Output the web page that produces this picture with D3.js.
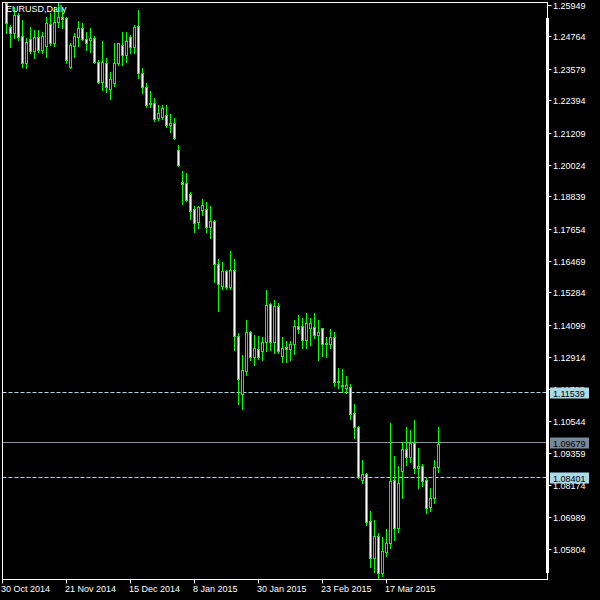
<!DOCTYPE html>
<html><head><meta charset="utf-8">
<script src="https://cdn.jsdelivr.net/npm/d3@7"></script>
<style>
html,body{margin:0;padding:0;background:#000;}
svg{display:block;}
text{font-family:"Liberation Sans",Arial,sans-serif;font-size:9px;}
</style>
</head><body>
<svg id="c" width="600" height="600"></svg>
<script>
const title = "EURUSD,Daily";
const opens = [1.2599,1.2512,1.2491,1.2556,1.2478,1.2379,1.2467,1.2423,1.2475,1.2426,
1.2441,1.2523,1.2452,1.2530,1.2549,1.2545,1.2363,1.2441,1.2475,1.2508,
1.2467,1.2462,1.2471,1.2382,1.2308,1.2378,1.2282,1.2304,1.2378,1.2445,
1.2408,1.2475,1.2438,1.2515,1.2341,1.2289,1.2230,1.2230,1.2175,1.2178,
1.2186,1.2149,1.2157,1.2056,1.1938,1.1934,1.1893,1.1838,1.1790,1.1834,
1.1838,1.1771,1.1793,1.1634,1.1553,1.1608,1.1549,1.1612,1.1367,1.1153,
1.1238,1.1382,1.1290,1.1319,1.1312,1.1345,1.1486,1.1345,1.1479,1.1293,
1.1327,1.1319,1.1338,1.1404,1.1404,1.1353,1.1397,1.1401,1.1371,1.1397,
1.1341,1.1338,1.1364,1.1201,1.1186,1.1175,1.1179,1.1082,1.1030,1.0834,
1.0856,1.0682,1.0545,1.0627,1.0490,1.0567,1.0601,1.0834,1.0656,1.0867,
1.0949,1.0919,1.0971,1.0879,1.0886,1.0834,1.0734,1.0767,1.0882];
const highs = [1.2600,1.2519,1.2586,1.2563,1.2538,1.2471,1.2512,1.2501,1.2501,1.2493,
1.2549,1.2563,1.2586,1.2600,1.2586,1.2549,1.2452,1.2489,1.2534,1.2526,
1.2493,1.2508,1.2478,1.2389,1.2460,1.2397,1.2345,1.2452,1.2452,1.2493,
1.2493,1.2482,1.2519,1.2575,1.2360,1.2304,1.2275,1.2249,1.2223,1.2223,
1.2223,1.2189,1.2175,1.2075,1.1978,1.1971,1.1901,1.1849,1.1849,1.1875,
1.1864,1.1849,1.1797,1.1653,1.1641,1.1612,1.1682,1.1653,1.1379,1.1297,
1.1427,1.1386,1.1371,1.1367,1.1364,1.1538,1.1490,1.1501,1.1490,1.1364,
1.1349,1.1349,1.1427,1.1445,1.1434,1.1453,1.1434,1.1453,1.1427,1.1397,
1.1364,1.1393,1.1382,1.1249,1.1245,1.1219,1.1190,1.1116,1.1034,1.0908,
1.0860,1.0719,1.0686,1.0638,1.0623,1.0653,1.1045,1.0923,1.0886,1.0975,
1.1030,1.1019,1.1056,1.0953,1.0893,1.0845,1.0804,1.0908,1.1030];
const lows = [1.2489,1.2439,1.2471,1.2463,1.2365,1.2359,1.2415,1.2397,1.2419,1.2415,
1.2401,1.2445,1.2441,1.2512,1.2508,1.2378,1.2360,1.2401,1.2441,1.2463,
1.2426,1.2419,1.2378,1.2304,1.2278,1.2271,1.2245,1.2293,1.2371,1.2371,
1.2382,1.2415,1.2415,1.2323,1.2267,1.2215,1.2215,1.2164,1.2167,1.2171,
1.2141,1.2124,1.2097,1.1997,1.1856,1.1867,1.1801,1.1752,1.1767,1.1815,
1.1752,1.1730,1.1567,1.1460,1.1541,1.1541,1.1541,1.1316,1.1116,1.1097,
1.1223,1.1279,1.1260,1.1282,1.1279,1.1312,1.1316,1.1304,1.1304,1.1271,
1.1271,1.1279,1.1301,1.1379,1.1323,1.1323,1.1334,1.1360,1.1279,1.1293,
1.1290,1.1323,1.1182,1.1175,1.1160,1.1156,1.1060,1.0990,1.0842,1.0823,
1.0667,1.0512,1.0493,1.0471,1.0479,1.0553,1.0582,1.0612,1.0641,1.0767,
1.0890,1.0901,1.0860,1.0804,1.0812,1.0712,1.0719,1.0749,1.0864];
const closes = [1.2526,1.2491,1.2556,1.2476,1.2379,1.2457,1.2423,1.2475,1.2426,1.2478,
1.2526,1.2452,1.2530,1.2549,1.2543,1.2389,1.2445,1.2478,1.2508,1.2467,
1.2452,1.2469,1.2382,1.2308,1.2382,1.2289,1.2319,1.2378,1.2452,1.2408,
1.2460,1.2438,1.2512,1.2341,1.2289,1.2223,1.2227,1.2171,1.2193,1.2212,
1.2149,1.2157,1.2101,1.2001,1.1930,1.1871,1.1830,1.1786,1.1845,1.1852,
1.1771,1.1793,1.1634,1.1560,1.1608,1.1549,1.1612,1.1367,1.1208,1.1242,
1.1382,1.1290,1.1323,1.1290,1.1345,1.1482,1.1345,1.1479,1.1312,1.1323,
1.1319,1.1338,1.1404,1.1393,1.1353,1.1416,1.1416,1.1371,1.1382,1.1338,
1.1338,1.1364,1.1197,1.1197,1.1182,1.1186,1.1079,1.1030,1.0845,1.0856,
1.0679,1.0545,1.0627,1.0490,1.0571,1.0601,1.0830,1.0656,1.0823,1.0949,
1.0919,1.0971,1.0879,1.0886,1.0830,1.0730,1.0767,1.0882,1.09679];

const priceTicks = [1.25949,1.24764,1.23579,1.22394,1.21209,1.20024,1.18839,1.17654,1.16469,
1.15284,1.14099,1.12914,1.11729,1.10544,1.09359,1.08174,1.06989,1.05804];
const dateLabels = ["30 Oct 2014","21 Nov 2014","15 Dec 2014","8 Jan 2015","30 Jan 2015","23 Feb 2015","17 Mar 2015"];
const dateBarIndex = [-1,15,31,47,63,79,95];
const dashedLevels = [1.11539,1.08401];
const lastPrice = 1.09679;

const W = 600, H = 600;
const plot = {left:2.5, top:2.5, right:547.5, bottom:579.5};
const svg = d3.select("#c");
svg.append("rect").attr("width",W).attr("height",H).attr("fill","#000");

const x = d3.scaleLinear().domain([0,108]).range([6.5, 438.5]);
const y = d3.scaleLinear().domain([1.05804,1.25949]).range([548.5,4.5]);
const py = v => Math.round(y(v)) + 0.5;
const ly = v => Math.floor(y(v)) - 0.5;

const clipId = "plotclip";
svg.append("clipPath").attr("id",clipId).append("rect")
  .attr("x",plot.left).attr("y",plot.top)
  .attr("width",plot.right-plot.left).attr("height",plot.bottom-plot.top);

const g = svg.append("g").attr("clip-path",`url(#${clipId})`);

// horizontal level lines
g.selectAll("line.dash").data(dashedLevels).enter().append("line")
  .attr("x1",plot.left).attr("x2",plot.right)
  .attr("y1",d=>ly(d)).attr("y2",d=>ly(d))
  .attr("stroke","#add8e6").attr("stroke-width",1).attr("stroke-dasharray","4,2");
g.append("line").attr("x1",plot.left).attr("x2",plot.right)
  .attr("y1",ly(lastPrice)).attr("y2",ly(lastPrice))
  .attr("stroke","#8796a6").attr("stroke-width",1);

const bars = opens.map((o,i)=>({i,o,h:highs[i],l:lows[i],c:closes[i]}));
const cg = g.selectAll("g.c").data(bars).enter().append("g");
cg.append("line")
  .attr("x1",d=>x(d.i)).attr("x2",d=>x(d.i))
  .attr("y1",d=>py(d.h)-0.5).attr("y2",d=>py(d.l)+0.5)
  .attr("stroke","#00ff00").attr("stroke-width",1);
cg.append("rect")
  .attr("x",d=>x(d.i)-1).attr("width",2)
  .attr("y",d=>Math.min(py(d.o),py(d.c)))
  .attr("height",d=>Math.abs(py(d.o)-py(d.c)))
  .attr("fill",d=>d.c<d.o?"#ffffff":"#000000")
  .attr("stroke","#00ff00").attr("stroke-width",1);

// frame
svg.append("rect").attr("x",plot.left).attr("y",plot.top)
  .attr("width",plot.right-plot.left).attr("height",plot.bottom-plot.top)
  .attr("fill","none").attr("stroke","#fff").attr("stroke-width",1);
svg.append("rect").attr("x",546).attr("y",18).attr("width",3).attr("height",555).attr("fill","#fff");

// price axis
const ya = svg.append("g");
ya.selectAll("line").data(priceTicks).enter().append("line")
  .attr("x1",plot.right).attr("x2",plot.right+4)
  .attr("y1",d=>py(d)).attr("y2",d=>py(d)).attr("stroke","#fff");
ya.selectAll("text").data(priceTicks).enter().append("text")
  .attr("x",553).attr("y",d=>py(d)+3.5).attr("fill","#fff")
  .text(d=>d.toFixed(5));

// price boxes
const boxes = dashedLevels.map(v=>({v,bg:"#add8e6"})).concat([{v:lastPrice,bg:"#778899"}]);
const bg = svg.selectAll("g.box").data(boxes).enter().append("g");
bg.append("rect").attr("x",550).attr("y",d=>ly(d.v)-5).attr("width",39).attr("height",11)
  .attr("fill",d=>d.bg);
bg.append("text").attr("x",553).attr("y",d=>ly(d.v)+4).attr("fill","#000").text(d=>d.v.toFixed(5));

// date axis
const xa = svg.append("g");
xa.selectAll("line").data(dateBarIndex).enter().append("line")
  .attr("x1",d=>Math.round(x(d))-0.5).attr("x2",d=>Math.round(x(d))-0.5)
  .attr("y1",plot.bottom).attr("y2",plot.bottom+4).attr("stroke","#fff");
xa.selectAll("text").data(dateBarIndex).enter().append("text")
  .attr("x",d=>x(d)-1.5).attr("y",592).attr("fill","#fff")
  .text((d,k)=>dateLabels[k]);

svg.append("text").attr("x",6).attr("y",12).attr("fill","#fff").text(title);
</script>
</body></html>
